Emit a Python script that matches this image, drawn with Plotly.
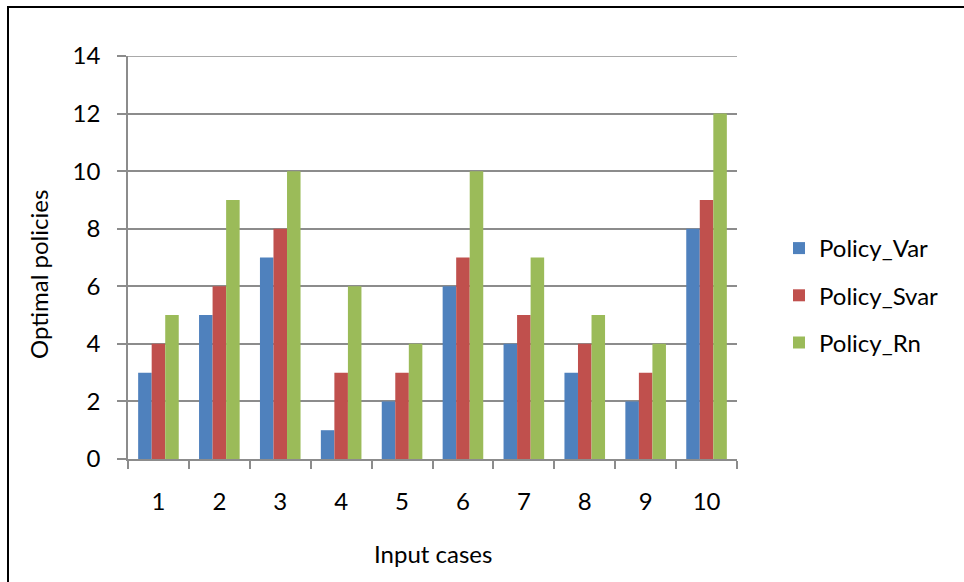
import plotly.graph_objects as go

categories = ["1", "2", "3", "4", "5", "6", "7", "8", "9", "10"]
policy_var = [3, 5, 7, 1, 2, 6, 4, 3, 2, 8]
policy_svar = [4, 6, 8, 3, 3, 7, 5, 4, 3, 9]
policy_rn = [5, 9, 10, 6, 4, 10, 7, 5, 4, 12]
y_ticks = [0, 2, 4, 6, 8, 10, 12, 14]

FONT = "Lato"
FS = 24
fig = go.Figure()
for i, (name, vals, col) in enumerate([("Policy_Var", policy_var, "#4F81BD"),
                                       ("Policy_Svar", policy_svar, "#C0504D"),
                                       ("Policy_Rn", policy_rn, "#9BBB59")]):
    fig.add_trace(go.Bar(x=categories, y=vals, name=name, marker_color=col,
                         marker_line_width=0, legendgroup=f"g{i}"))

W, H = 964, 582
L, R, T, B = 128, 737, 56, 459
pw, ph = R - L, B - T

fig.update_layout(
    width=W, height=H,
    margin=dict(l=L, r=W - R, t=T, b=H - B, pad=0),
    paper_bgcolor="white", plot_bgcolor="white",
    barmode="group", bargap=1.5 / 4.5, bargroupgap=0,
    font=dict(family=FONT, size=FS, color="black"),
    showlegend=True,
    legend=dict(x=(779 - L) / pw, y=(459 - 226) / ph, xanchor="left", yanchor="top",
                font=dict(size=FS), itemsizing="constant", tracegroupgap=13,
                itemwidth=30, bgcolor="rgba(0,0,0,0)"),
    xaxis=dict(type="category", showgrid=False, showline=True, linecolor="#8c8c8c",
               linewidth=1.5, ticks="outside", tickson="boundaries", ticklen=8,
               tickcolor="#8c8c8c", tickwidth=1.5, ticklabelstandoff=20,
               tickfont=dict(size=FS)),
    yaxis=dict(range=[0, 14], tickvals=y_ticks, showgrid=True, gridcolor="#8c8c8c",
               gridwidth=1.5, showline=True, linecolor="#8c8c8c", linewidth=1.5,
               ticks="outside", ticklen=9, tickcolor="#8c8c8c", tickwidth=1.5,
               ticklabelstandoff=12, tickfont=dict(size=FS), zeroline=False),
    annotations=[
        dict(text="Optimal policies", xref="paper", yref="paper",
             x=(38 - L) / pw, y=(B - 274) / ph, textangle=-90,
             showarrow=False, font=dict(size=FS), xanchor="center", yanchor="middle"),
        dict(text="Input cases", xref="paper", yref="paper",
             x=0.5, y=(B - 553) / ph, showarrow=False, font=dict(size=FS),
             xanchor="center", yanchor="middle"),
    ],
    shapes=[
        dict(type="rect", xref="paper", yref="paper",
             x0=(8 - L) / pw, x1=(1100 - L) / pw, y0=(B - 700) / ph, y1=(B - 7) / ph,
             line=dict(color="black", width=2), fillcolor="rgba(0,0,0,0)", layer="below"),
        dict(type="line", xref="paper", yref="y", x0=0, x1=1, y0=y_ticks[-1], y1=y_ticks[-1],
             line=dict(color="#8c8c8c", width=1.5), layer="below"),
    ],
)

fig.write_html("out.html")
